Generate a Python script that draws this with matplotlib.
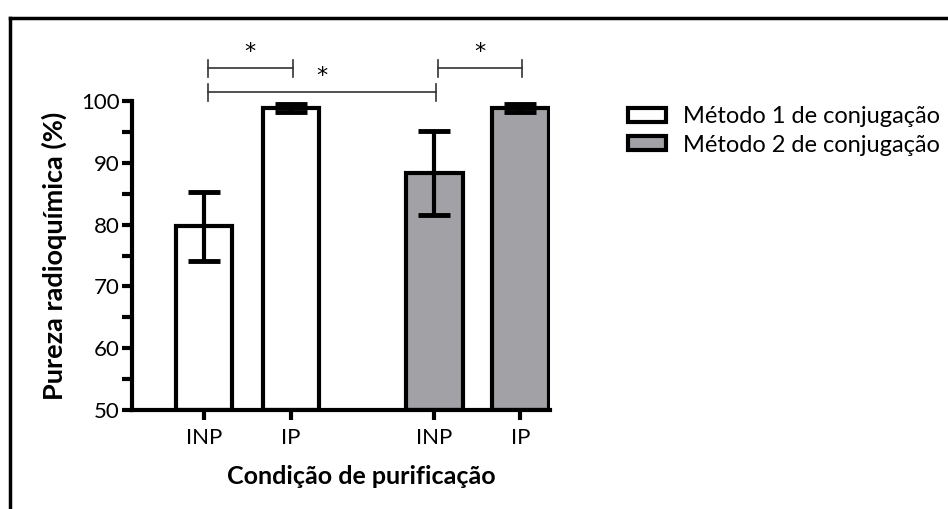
import numpy as np
import matplotlib
matplotlib.use('Agg')
import matplotlib.pyplot as plt
from matplotlib.patches import Patch
from matplotlib.lines import Line2D

plt.rcParams['font.family'] = ['Lato', 'DejaVu Sans']

# Radiochemical purity per purification condition and conjugation method
conditions = ['INP', 'IP', 'INP', 'IP']
methods = ['Método 1 de conjugação', 'Método 2 de conjugação']
method1_mean = [79.7, 98.9]
method1_err = [5.65, 0.6]
method2_mean = [88.3, 98.9]
method2_err = [6.8, 0.6]

# significance brackets: (left bar, right bar, height in %)
brackets = [(0, 1, 105.3), (0, 2, 101.4), (2, 3, 105.3)]

positions = [0, 1, 2.65, 3.64]
width = 0.65
gray = '#a2a2a6'

fig = plt.figure(figsize=(9.48, 5.09), dpi=100)
ax = fig.add_axes([132 / 948, 99 / 509, 418 / 948, 309 / 509])

means = method1_mean + method2_mean
errs = method1_err + method2_err
colors = ['white', 'white', gray, gray]

ax.bar(positions, np.array(means) - 50, bottom=50, width=width,
       color=colors, edgecolor='black', linewidth=3, zorder=2)
ax.errorbar(positions, means, yerr=errs, fmt='none', ecolor='black',
            elinewidth=3, capsize=11.5, capthick=3.5, zorder=3)

ax.set_ylim(50, 100)
ax.set_xlim(-0.83, 3.98)

for a, b, h in brackets:
    xa, xb = positions[a] + 0.04, positions[b] + 0.02
    ax.plot([xa, xb], [h, h], color='#333333', lw=1.2, clip_on=False)
    for xv in (xa, xb):
        ax.plot([xv, xv], [h - 1.35, h + 1.35], color='#333333', lw=1.2,
                clip_on=False)
    ax.text((xa + xb) / 2, h + 1.0, '*', ha='center', va='bottom',
            fontsize=16, family='DejaVu Sans', clip_on=False)

ax.spines['top'].set_visible(False)
ax.spines['right'].set_visible(False)
ax.spines['left'].set_linewidth(3)
ax.spines['bottom'].set_linewidth(3)

ax.set_yticks(np.arange(50, 101, 10))
ax.set_yticks(np.arange(55, 100, 10), minor=True)
ax.tick_params(axis='y', which='major', length=7, width=3, labelsize=16, pad=2)
ax.tick_params(axis='y', which='minor', length=7, width=3)
ax.set_xticks(positions)
ax.set_xticklabels(conditions)
ax.tick_params(axis='x', length=7, width=3, labelsize=16, pad=6)

ax.set_ylabel('Pureza radioquímica (%)', fontsize=19.5, fontweight='bold',
              labelpad=10)
ax.set_xlabel('Condição de purificação', fontsize=18, fontweight='bold')
ax.xaxis.set_label_coords((361 - 132) / 418, -0.178)

handles = [Patch(facecolor='white', edgecolor='black', linewidth=3),
           Patch(facecolor=gray, edgecolor='black', linewidth=3)]
fig.legend(handles, methods, loc='upper left',
           bbox_to_anchor=(619 / 948, 1 - 97 / 509), frameon=False,
           fontsize=17, handlelength=1.57, handleheight=0.55,
           handletextpad=0.72, labelspacing=0.3, borderaxespad=0)

# frame lines along the top and left edge
fig.add_artist(Line2D([10 / 948, 1], [1 - 18 / 509, 1 - 18 / 509],
                      transform=fig.transFigure, color='black', lw=2.5))
fig.add_artist(Line2D([10 / 948, 10 / 948], [0, 1 - 18 / 509],
                      transform=fig.transFigure, color='black', lw=2.5))

fig.savefig('out.png', dpi=100)
